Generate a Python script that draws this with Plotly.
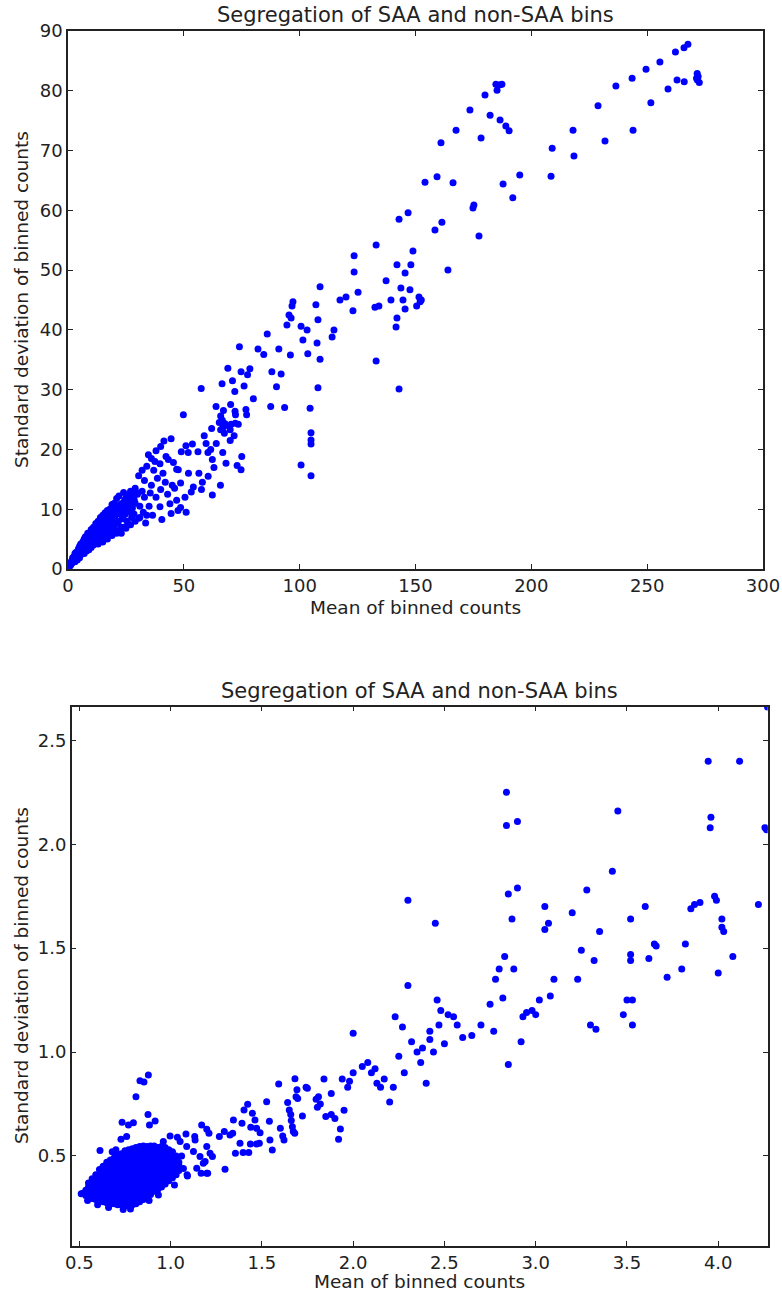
import plotly.graph_objects as go

W, H = 782, 1298

# ---------------- data: top panel (mean, std) ----------------
top_pts = [
    # high-count bins
    (267.6,87.8),(265.9,87.2),(262.2,86.5),(255.5,84.8),(249.5,83.6),(243.5,82.1),(236.5,80.8),
    (228.8,77.5),(218.0,73.4),(218.4,69.1),(208.5,65.7),(209.0,70.4),(231.8,71.6),(251.6,78.0),
    (259.0,80.3),(262.9,81.8),(271.6,82.9),(272.0,82.4),(271.7,81.8),(272.5,81.4),(271.3,82.1),
    (266.0,81.5),(243.9,73.4),
    (184.7,81.1),(186.5,81.0),(187.3,81.1),(185.2,80.1),(180.0,79.3),(173.5,76.8),(182.2,75.9),
    (186.5,75.1),(189.0,74.1),(190.4,73.3),(178.3,72.1),(167.5,73.4),(161.0,71.3),(195.0,65.9),
    (192.0,62.1),(187.8,64.4),(175.2,60.9),(174.8,60.4),(177.4,55.7),(166.2,64.6),(159.3,65.6),
    (154.1,64.7),(161.4,58.0),(158.4,56.7),(164.0,50.0),
    (146.8,59.6),(142.9,58.5),(148.9,53.2),(148.0,50.9),(145.5,49.5),(142.0,50.9),(143.7,47.0),
    (147.6,46.7),(151.5,45.5),(152.0,44.7),(144.6,45.0),(145.5,43.5),(142.0,42.0),(141.6,40.5),
    (139.4,45.0),(137.3,48.2),(142.9,30.1),(133.0,54.2),(132.5,43.8),(123.5,52.4),(123.5,49.7),
    (125.2,46.3),(123.0,43.2),(133.0,34.8),(134.2,44.0),(150.5,44.0),(152.5,45.0),
    (108.8,47.2),(107.0,44.2),(107.9,41.7),(107.5,37.8),(108.8,35.1),(107.9,30.3),(104.5,26.9),
    (104.9,22.8),(104.9,21.6),(104.9,20.9),(104.9,15.6),(100.6,17.4),(97.1,44.7),(96.7,44.0),
    (95.4,42.5),(96.3,42.0),(94.5,40.8),(100.6,40.6),(103.2,40.0),(101.4,38.3),(103.5,36.0),
    (114.0,38.8),(114.8,40.0),(117.4,45.0),(120.0,45.5),(93.5,27.0),(87.5,27.2),(86.0,39.3),
    (82.0,36.8),(84.5,35.9),(91.0,36.8),(88.0,33.0),(90.0,30.5),(92.0,32.6),(96.0,35.8),
    (77.5,32.5),(78.5,33.5),(74.0,37.2),(74.7,33.0),(80.0,28.5),(69.0,33.6),(72.0,29.7),
    (76.0,30.6),(73.5,24.2),(70.0,23.3),(72.3,25.8),(68.0,24.0),(70.0,21.5),(75.0,18.8),
    (74.7,16.6),(73.0,17.3),(68.2,17.7),(66.8,19.5),(63.9,27.2),(70.2,27.5),(76.8,26.7),
    (77.1,25.8),(67.1,26.5),(65.9,25.6),(66.6,24.9),(65.3,24.5),(67.8,24.3),(66.9,23.7),
    (65.9,23.3),(67.5,22.7),(72.1,26.4),(72.2,24.4),(71.7,22.3),(70.4,24.2),(58.8,22.3),
    (59.6,21.0),(61.6,20.0),(60.4,19.5),(62.3,18.3),(65.8,14.0),(62.3,12.4),(57.6,13.3),
    (57.5,30.2),(64.0,21.0),(62.0,23.5),(66.5,31.0),(71.0,31.5),(63.0,17.0),(56.5,16.0),
    (58.0,14.5),(60.5,15.5),
    (49.8,25.8),(41.4,21.4),(34.7,19.1),(48.9,19.6),(50.9,20.6),(53.7,20.9),(51.9,19.5),
    (56.1,19.6),(46.9,16.7),(47.6,16.6),(48.6,14.4),(42.3,18.8),(43.3,18.3),(39.7,17.6),
    (38.6,15.2),(30.5,15.6),(54.1,13.7),(53.2,12.9),(46.9,11.5),(44.0,10.9),(48.6,10.3),
    (35.0,10.5),(39.7,10.4),(28.6,11.5),(52.0,16.0),(45.0,14.0),(44.5,21.8),(41.0,16.0),
    (37.0,16.5),(36.0,14.0),(33.0,14.8),(32.0,13.0),(30.0,12.5),(35.5,12.7),(40.0,13.3),
    (43.0,12.5),(38.0,12.0),(42.0,14.5),(46.0,13.5),(50.5,12.0),(51.0,9.5),(44.5,9.3),
    (47.5,9.8),(40.5,8.3),(36.5,9.0),(32.5,9.5),(30.5,8.5),(33.5,7.7),(37.5,18.0),(45.5,17.8),
    (32.0,16.5),(34.0,17.2),(36.0,18.5),(38.0,19.8),(40.0,20.5),(31.0,10.5),(33.0,12.0),
    (29.0,13.5),(27.0,13.0),(24.0,12.8),(21.0,11.8),(19.0,10.8),(17.0,9.8),(15.0,9.0),
    (13.0,8.0),(11.0,7.0),(15.0,4.5),(17.0,5.0),(19.0,5.6),(21.0,6.0),(23.0,6.0),(25.0,6.8),
    (27.0,7.4),(29.0,8.0),(31.0,8.6),(34.0,9.0),
    # dense low-count bins
    (0.3,0.2),(0.6,0.4),(0.9,0.6),(1.2,0.7),(1.5,0.9),(1.8,1.1),(2.2,1.2),(2.5,1.5),(2.8,1.6),
    (3.2,1.8),(3.5,2.0),(3.8,2.3),(4.2,2.2),(4.5,2.7),(4.8,2.4),(5.2,3.0),(5.5,2.8),(5.8,3.3),
    (6.2,3.0),(6.5,3.6),(6.8,3.2),(7.2,4.0),(7.5,3.5),(7.8,4.3),(8.2,3.8),(8.5,4.8),(8.8,4.2),
    (9.2,5.0),(9.5,4.4),(9.8,5.4),(10.2,4.8),(10.5,5.8),(10.8,5.0),(11.2,6.2),(11.5,5.3),
    (11.8,6.6),(12.2,5.6),(12.5,7.0),(12.8,6.0),(13.2,6.8),(13.5,5.4),(13.8,7.2),(14.2,6.3),
    (14.5,7.6),(14.8,5.8),(15.2,7.0),(15.5,8.0),(15.8,6.4),(16.2,7.5),(16.5,6.0),(16.8,8.2),
    (17.2,7.0),(17.5,8.6),(17.8,6.6),(18.2,7.8),(18.5,9.0),(18.8,7.2),(19.2,8.4),(19.5,9.6),
    (19.8,6.8),(20.2,8.8),(20.5,10.0),(20.8,7.6),(21.2,9.2),(21.5,10.4),(21.8,8.0),(22.2,9.6),
    (22.5,10.8),(22.8,7.0),(23.2,9.0),(23.5,11.0),(23.8,8.4),(24.2,10.0),(24.5,11.6),(24.8,9.2),
    (25.2,12.0),(25.5,8.0),(25.8,10.6),(26.2,12.3),(26.5,9.6),(26.8,11.2),(27.2,12.6),(27.5,8.6),
    (27.8,10.2),(28.2,12.0),(28.5,9.2),(29.0,11.0),(29.5,12.8),(4.0,1.5),(6.0,2.5),(8.0,3.0),
    (10.0,3.6),(12.0,4.5),(14.0,5.0),(16.0,5.4),(18.0,6.0),(20.0,6.2),(22.0,6.4),(24.0,7.0),
    (26.0,7.4),(10.0,6.6),(12.0,7.6),(14.0,8.6),(16.0,9.4),(18.0,10.0),(20.0,11.0),(22.0,12.2),
    (9.0,6.0),(7.0,5.0),(5.0,3.8),(3.0,2.6),(2.0,1.9),(1.0,1.0),(1.5,1.3),(2.5,2.0),(3.5,2.8),
    (4.5,3.4),(5.5,4.2),(6.5,4.6),(7.5,5.4),(8.5,6.0),(3.0,1.2),(5.0,1.9),(7.0,2.6),(9.0,3.2),
    (11.0,4.0),(13.0,4.2),
]
top_x = [p[0] for p in top_pts]
top_y = [p[1] for p in top_pts]

# ---------------- data: bottom panel ----------------
# dense core of non-SAA bins, read column by column: (mean, [std values])
bot_core = [
    (0.52, [0.32]),
    (0.535, [0.31, 0.335]),
    (0.55, [0.30, 0.325, 0.35, 0.37]),
    (0.57, [0.295, 0.32, 0.345, 0.37, 0.39]),
    (0.59, [0.29, 0.315, 0.34, 0.365, 0.39, 0.41]),
    (0.61, [0.285, 0.31, 0.335, 0.36, 0.385, 0.41, 0.435]),
    (0.63, [0.28, 0.305, 0.33, 0.355, 0.38, 0.405, 0.43, 0.45]),
    (0.65, [0.275, 0.30, 0.325, 0.35, 0.375, 0.40, 0.425, 0.45, 0.47]),
    (0.67, [0.27, 0.295, 0.32, 0.345, 0.37, 0.395, 0.42, 0.445, 0.465, 0.48]),
    (0.69, [0.27, 0.29, 0.315, 0.34, 0.365, 0.39, 0.415, 0.44, 0.465, 0.49]),
    (0.71, [0.265, 0.29, 0.315, 0.34, 0.365, 0.39, 0.415, 0.44, 0.465, 0.49, 0.505]),
    (0.73, [0.265, 0.285, 0.31, 0.335, 0.36, 0.385, 0.41, 0.435, 0.46, 0.485, 0.51]),
    (0.75, [0.26, 0.285, 0.31, 0.335, 0.36, 0.385, 0.41, 0.435, 0.46, 0.485, 0.51, 0.525]),
    (0.77, [0.26, 0.28, 0.305, 0.33, 0.355, 0.38, 0.405, 0.43, 0.455, 0.48, 0.505, 0.53]),
    (0.79, [0.265, 0.29, 0.315, 0.34, 0.365, 0.39, 0.415, 0.44, 0.465, 0.49, 0.515, 0.535]),
    (0.81, [0.27, 0.295, 0.32, 0.345, 0.37, 0.395, 0.42, 0.445, 0.47, 0.495, 0.52, 0.54]),
    (0.83, [0.28, 0.305, 0.33, 0.355, 0.38, 0.405, 0.43, 0.455, 0.48, 0.505, 0.53, 0.545]),
    (0.85, [0.29, 0.315, 0.34, 0.365, 0.39, 0.415, 0.44, 0.465, 0.49, 0.515, 0.535, 0.548]),
    (0.87, [0.30, 0.325, 0.35, 0.375, 0.40, 0.425, 0.45, 0.475, 0.50, 0.525, 0.545]),
    (0.89, [0.315, 0.34, 0.365, 0.39, 0.415, 0.44, 0.465, 0.49, 0.515, 0.54, 0.548]),
    (0.91, [0.33, 0.355, 0.38, 0.405, 0.43, 0.455, 0.48, 0.505, 0.53, 0.548]),
    (0.93, [0.34, 0.365, 0.39, 0.415, 0.44, 0.465, 0.49, 0.515, 0.54]),
    (0.95, [0.35, 0.375, 0.40, 0.425, 0.45, 0.475, 0.50, 0.525, 0.545]),
    (0.97, [0.365, 0.39, 0.415, 0.44, 0.465, 0.49, 0.515, 0.54]),
    (0.99, [0.38, 0.405, 0.43, 0.455, 0.48, 0.505, 0.53]),
    (1.01, [0.395, 0.42, 0.445, 0.47, 0.495, 0.52]),
    (1.03, [0.41, 0.435, 0.46, 0.485, 0.50]),
    (1.045, [0.43, 0.455, 0.47]),
]

bot_pts = [
    # scattered bins near the core
    (0.878,0.890),(0.832,0.862),(0.854,0.856),(0.810,0.785),(0.876,0.700),(0.734,0.662),
    (0.769,0.649),(0.796,0.660),(0.884,0.649),(0.915,0.668),(0.728,0.580),(0.759,0.593),
    (0.613,0.526),(0.997,0.596),(1.052,0.569),(1.088,0.545),(1.125,0.521),(1.189,0.473),
    (1.203,0.417),(1.092,0.404),(1.021,0.360),(0.933,0.312),(0.882,0.285),(0.820,0.290),
    (1.037,0.590),(1.084,0.606),(1.132,0.593),(1.134,0.577),(1.170,0.649),(1.198,0.628),
    (1.210,0.609),(1.267,0.593),(1.294,0.617),(1.325,0.601),(1.340,0.609),(1.344,0.673),
    (1.391,0.657),(1.422,0.749),(1.402,0.721),(1.448,0.705),(1.462,0.673),(1.439,0.638),
    (1.471,0.633),(1.490,0.612),(1.486,0.561),(1.437,0.558),(1.380,0.561),(1.355,0.513),
    (1.397,0.516),(1.428,0.516),(1.471,0.558),(1.544,0.577),(1.557,0.529),(1.526,0.761),
    (1.541,0.667),(1.592,0.846),(1.601,0.633),(1.614,0.596),(1.621,0.577),(1.641,0.757),
    (1.650,0.721),(1.658,0.699),(1.661,0.670),(1.667,0.641),(1.672,0.617),(1.680,0.609),
    (1.681,0.872),(1.692,0.818),(1.687,0.785),(1.696,0.777),(1.722,0.692),(1.742,0.830),
    (1.749,0.826),(1.797,0.773),(1.804,0.734),(1.810,0.785),(1.298,0.436),(1.198,0.545),
    (1.216,0.513),(1.229,0.497),(1.161,0.497),(1.179,0.465),(1.143,0.441),(1.167,0.417),
    (1.198,0.417),(1.090,0.409),(0.510,0.318),(0.545,0.285),(0.60,0.265),(0.66,0.252),
    (0.74,0.242),(0.78,0.245),(0.70,0.53),(0.68,0.52),(0.96,0.57),(1.06,0.50),(1.07,0.44),
    # higher-count bins
    (1.82,0.75),(1.84,0.87),(1.85,0.69),(1.88,0.80),(1.90,0.68),(1.92,0.58),(1.93,0.63),
    (1.95,0.72),(1.97,0.83),(1.98,0.86),(2.00,0.90),(2.00,1.09),(1.94,0.87),(1.88,0.70),
    (2.05,0.93),(2.08,0.95),(2.10,0.90),(2.12,0.92),(2.13,0.85),(2.15,0.83),(2.17,0.87),
    (2.20,0.76),(2.22,0.83),(2.23,1.17),(2.25,0.98),(2.27,1.12),(2.28,0.90),(2.30,1.73),
    (2.30,1.32),(2.32,1.05),(2.35,1.00),(2.37,0.95),(2.38,1.02),(2.40,0.85),(2.42,1.06),
    (2.44,1.00),(2.45,1.62),(2.46,1.25),(2.48,1.20),(2.50,1.04),(2.52,1.18),(2.55,1.17),
    (2.57,1.13),(2.60,1.07),(2.47,1.13),(2.42,1.10),
    (2.75,1.23),(2.77,1.10),(2.78,1.35),(2.80,1.40),(2.82,1.26),(2.83,1.46),(2.84,2.25),
    (2.84,2.09),(2.85,0.94),(2.85,1.76),(2.87,1.64),(2.88,1.40),(2.90,2.11),(2.90,1.79),
    (2.92,1.05),(2.93,1.17),(2.95,1.19),(2.98,1.20),(3.00,1.18),(3.02,1.25),(3.05,1.59),
    (3.05,1.70),(3.07,1.62),(3.08,1.27),(2.70,1.13),(2.65,1.08),
    (3.10,1.35),(3.20,1.67),(3.23,1.35),(3.25,1.49),(3.28,1.78),(3.30,1.13),(3.32,1.44),
    (3.33,1.11),(3.35,1.58),(3.42,1.87),(3.45,2.16),(3.48,1.18),(3.50,1.25),(3.52,1.47),
    (3.52,1.64),(3.53,1.13),(3.53,1.25),(3.52,1.44),
    (3.60,1.70),(3.62,1.45),(3.65,1.52),(3.66,1.51),(3.72,1.36),(3.80,1.40),(3.82,1.52),
    (3.85,1.69),(3.87,1.71),(3.90,1.72),(3.945,2.40),(3.96,2.13),(3.956,2.08),(3.98,1.75),
    (3.99,1.73),(4.00,1.38),(4.02,1.64),(4.02,1.60),(4.03,1.58),(4.08,1.46),(4.117,2.40),
    (4.22,1.71),(4.256,2.08),(4.265,2.07),(4.27,2.66),
]
bot_x = [cx for cx, ys in bot_core for _ in ys] + [p[0] for p in bot_pts]
bot_y = [y for cx, ys in bot_core for y in ys] + [p[1] for p in bot_pts]

title_text = "Segregation of SAA and non-SAA bins"
xlabel = "Mean of binned counts"
ylabel = "Standard deviation of binned counts"
top_xticks = [0, 50, 100, 150, 200, 250, 300]
top_yticks = [0, 10, 20, 30, 40, 50, 60, 70, 80, 90]
bot_xticks = [0.5, 1.0, 1.5, 2.0, 2.5, 3.0, 3.5, 4.0]
bot_xtext = ["0.5", "1.0", "1.5", "2.0", "2.5", "3.0", "3.5", "4.0"]
bot_yticks = [0.5, 1.0, 1.5, 2.0, 2.5]
bot_ytext = ["0.5", "1.0", "1.5", "2.0", "2.5"]

FONT = "DejaVu Sans"
TICK_SIZE = 18
LABEL_SIZE = 18.5
TITLE_SIZE = 21

def px_x(p):
    return p / W

def px_y(p):
    return 1 - p / H

fig = go.Figure()
mk = dict(color="#0000ff", size=7, line=dict(width=0))
fig.add_trace(go.Scatter(x=top_x, y=top_y, mode="markers", marker=mk,
                         xaxis="x", yaxis="y", showlegend=False, cliponaxis=True))
fig.add_trace(go.Scatter(x=bot_x, y=bot_y, mode="markers", marker=mk,
                         xaxis="x2", yaxis="y2", showlegend=False, cliponaxis=True))

ax_common = dict(showline=True, linecolor="#222", linewidth=1.5, mirror="allticks",
                 ticks="inside", ticklen=5, tickwidth=1, tickcolor="#222",
                 showgrid=False, zeroline=False, automargin=False,
                 tickfont=dict(family=FONT, size=TICK_SIZE, color="#222"))

fig.update_layout(
    xaxis=dict(domain=[px_x(68), px_x(763)], range=[0, 300], tickvals=top_xticks,
               anchor="y", **ax_common),
    yaxis=dict(domain=[px_y(569), px_y(31)], range=[0, 90], tickvals=top_yticks,
               anchor="x", **ax_common),
    xaxis2=dict(domain=[px_x(71.7), px_x(767.7)], range=[0.458, 4.271],
                tickvals=bot_xticks, ticktext=bot_xtext, anchor="y2", **ax_common),
    yaxis2=dict(domain=[px_y(1245.7), px_y(706.7)], range=[0.068, 2.662],
                tickvals=bot_yticks, ticktext=bot_ytext, anchor="x2", **ax_common),
)

ann = []
def text(x, y, s, size, angle=0):
    ann.append(dict(x=px_x(x), y=px_y(y), xref="paper", yref="paper", text=s,
                    showarrow=False, textangle=angle, xanchor="center", yanchor="middle",
                    font=dict(family=FONT, size=size, color="#222")))

text(415.5, 15, title_text, TITLE_SIZE)
text(415.5, 607, xlabel, LABEL_SIZE)
text(21, 300, ylabel, LABEL_SIZE, angle=-90)
text(419.7, 691, title_text, TITLE_SIZE)
text(419.7, 1281, xlabel, LABEL_SIZE)
text(21, 976, ylabel, LABEL_SIZE, angle=-90)

fig.update_layout(width=W, height=H,
                  margin=dict(l=0, r=0, t=0, b=0, pad=0, autoexpand=False),
                  paper_bgcolor="white", plot_bgcolor="white", annotations=ann,
                  font=dict(family=FONT))

fig.write_html("out.html")
